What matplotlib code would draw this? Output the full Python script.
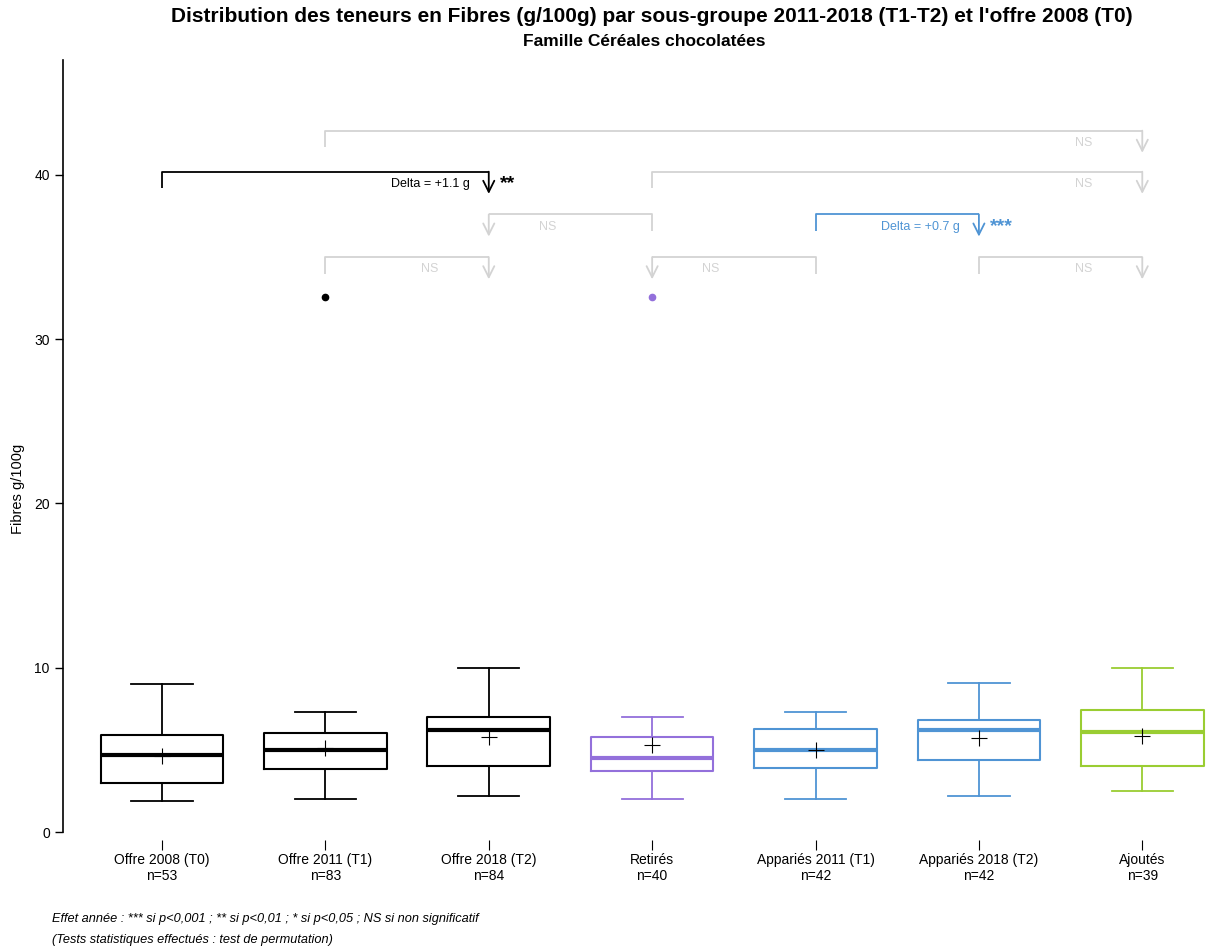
import matplotlib
matplotlib.use("Agg")
import matplotlib.pyplot as plt

plt.rcParams['font.family'] = ['Liberation Sans', 'DejaVu Sans']

# Sous-groupes et effectifs
groups = ['Offre 2008 (T0)', 'Offre 2011 (T1)', 'Offre 2018 (T2)', 'Retirés',
          'Appariés 2011 (T1)', 'Appariés 2018 (T2)', 'Ajoutés']
n_obs = [53, 83, 84, 40, 42, 42, 39]

# Statistiques des boîtes (g/100g)
whislo = [1.9, 2.0, 2.2, 2.0, 2.0, 2.2, 2.5]
q1 = [3.0, 3.85, 4.0, 3.7, 3.9, 4.4, 4.0]
med = [4.7, 5.0, 6.2, 4.5, 5.0, 6.2, 6.1]
q3 = [5.9, 6.0, 7.0, 5.8, 6.3, 6.8, 7.4]
whishi = [9.0, 7.3, 10.0, 7.0, 7.3, 9.1, 10.0]
means = [4.6, 5.1, 5.8, 5.3, 5.0, 5.7, 5.85]
fliers = [[], [32.6], [], [32.6], [], [], []]

colors = ['black', 'black', 'black', '#9370DB', '#4F94D4', '#4F94D4', '#9ACD32']

# Comparaisons : (départ, arrivée de la flèche, niveau, texte, étoiles, couleur)
comparisons = [
    (2, 7, 42.7, 'NS', '', '#D3D3D3'),
    (1, 3, 40.2, 'Delta = +1.1 g', '**', 'black'),
    (4, 7, 40.2, 'NS', '', '#D3D3D3'),
    (4, 3, 37.6, 'NS', '', '#D3D3D3'),
    (5, 6, 37.6, 'Delta = +0.7 g', '***', '#4F94D4'),
    (2, 3, 35.0, 'NS', '', '#D3D3D3'),
    (5, 4, 35.0, 'NS', '', '#D3D3D3'),
    (6, 7, 35.0, 'NS', '', '#D3D3D3'),
]

fig = plt.figure(figsize=(12.06, 9.49), dpi=100)
ax = fig.add_axes([63 / 1206, 1 - 832 / 949, 1 - 63 / 1206, (832 - 60) / 949])

positions = list(range(1, len(groups) + 1))
for i, pos in enumerate(positions):
    stats = [dict(whislo=whislo[i], q1=q1[i], med=med[i], q3=q3[i],
                  whishi=whishi[i], fliers=fliers[i], mean=means[i])]
    c = colors[i]
    ax.bxp(stats, positions=[pos], widths=0.75, showmeans=True,
           boxprops=dict(color=c, linewidth=1.5),
           medianprops=dict(color=c, linewidth=3),
           whiskerprops=dict(color=c, linewidth=1.3),
           capprops=dict(color=c, linewidth=1.3),
           capwidths=0.375,
           flierprops=dict(marker='o', markerfacecolor=c, markeredgecolor=c,
                           markersize=4.5),
           meanprops=dict(marker='+', markeredgecolor='black', markersize=12,
                          markeredgewidth=0.8))

# Flèches de comparaison
for start, end, level, label, stars, c in comparisons:
    ax.plot([start, start, end], [level - 1.0, level, level], color=c,
            linewidth=1.3, solid_capstyle='butt')
    ax.annotate('', xy=(end, level - 1.35), xytext=(end, level),
                arrowprops=dict(arrowstyle='->', color=c, lw=1.3,
                                mutation_scale=20, shrinkA=0, shrinkB=0))
    direction = 1 if start > end else -1
    ax.text(end + 0.36 * direction, level - 0.75, label, color=c,
            fontsize=9, ha='center', va='center')
    if stars:
        ax.text(end + 0.07, level - 0.75, stars, color=c, fontsize=14,
                fontweight='bold', ha='left', va='center')

ax.set_xlim(0.394, 7.39)
ax.set_ylim(0, 47)
ax.set_yticks([0, 10, 20, 30, 40])
ax.set_xticks(positions)
ax.set_xticklabels([f'{g}\nn={k}' for g, k in zip(groups, n_obs)],
                   fontsize=10, linespacing=1.1)
ax.tick_params(axis='y', labelsize=10, length=6, width=1)
ax.tick_params(axis='x', length=7, width=0.8, pad=2)

for side in ['top', 'right']:
    ax.spines[side].set_visible(False)
ax.spines['bottom'].set_position(('outward', 6))
ax.spines['bottom'].set_color('none')
ax.spines['left'].set_linewidth(1.2)

fig.text(18 / 1206, 1 - 489 / 949, 'Fibres g/100g', rotation=90,
         fontsize=10.5, ha='center', va='center')

fig.text(652 / 1206, 1 - 17 / 949,
         "Distribution des teneurs en Fibres (g/100g) par sous-groupe 2011-2018 (T1-T2) et l'offre 2008 (T0)",
         fontsize=15, fontweight='bold', ha='center', va='center')
fig.text(644 / 1206, 1 - 42 / 949, 'Famille Céréales chocolatées',
         fontsize=12.5, fontweight='bold', ha='center', va='center')

fig.text(52 / 1206, 1 - 919 / 949,
         'Effet année : *** si p<0,001 ; ** si p<0,01 ; * si p<0,05 ; NS si non significatif',
         fontsize=9.2, style='italic', ha='left', va='center')
fig.text(52 / 1206, 1 - 940 / 949,
         '(Tests statistiques effectués : test de permutation)',
         fontsize=9.2, style='italic', ha='left', va='center')

fig.savefig('out.png', dpi=100)
